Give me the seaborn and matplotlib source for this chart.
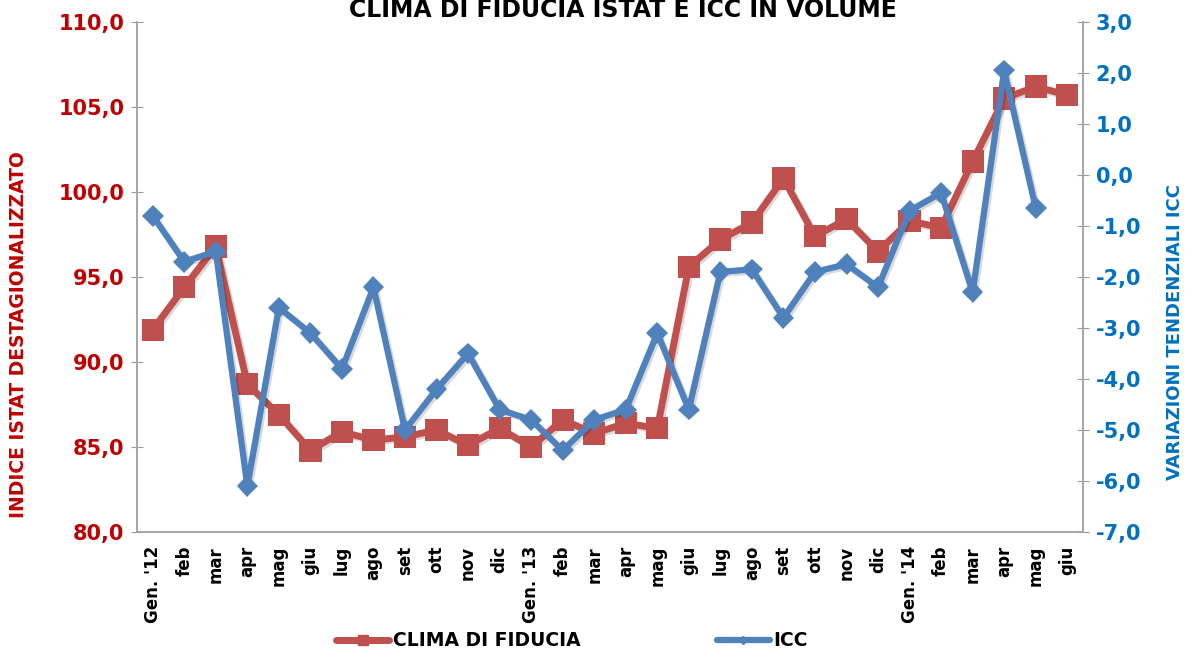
import numpy as np
import pandas as pd
import seaborn as sns
import matplotlib.pyplot as plt
import matplotlib.patheffects as pe
from matplotlib.lines import Line2D
from matplotlib.ticker import FuncFormatter, FixedLocator

mesi = ["Gen. '12", "feb", "mar", "apr", "mag", "giu", "lug", "ago", "set", "ott", "nov", "dic",
        "Gen. '13", "feb", "mar", "apr", "mag", "giu", "lug", "ago", "set", "ott", "nov", "dic",
        "Gen. '14", "feb", "mar", "apr", "mag", "giu"]
clima = [91.9, 94.4, 96.8, 88.7, 86.9, 84.8, 85.9, 85.4, 85.6, 86.0, 85.1, 86.1,
         85.0, 86.6, 85.8, 86.4, 86.1, 95.6, 97.2, 98.2, 100.8, 97.4, 98.4, 96.5,
         98.3, 97.9, 101.8, 105.5, 106.2, 105.7]
icc = [-0.8, -1.7, -1.5, -6.1, -2.6, -3.1, -3.8, -2.2, -5.0, -4.2, -3.5, -4.6,
       -4.8, -5.4, -4.8, -4.6, -3.1, -4.6, -1.9, -1.85, -2.8, -1.9, -1.75, -2.2,
       -0.7, -0.35, -2.3, 2.05, -0.65, np.nan]

RED = "#C0504D"
BLUE = "#4F81BD"
RED_TXT = "#C00000"
BLUE_TXT = "#0070C0"

df = pd.DataFrame({"pos": np.arange(len(mesi)), "mese": mesi, "clima": clima, "icc": icc})

sns.set_style("white")
plt.rcParams["font.family"] = ["DejaVu Sans"]
plt.rcParams["font.weight"] = "bold"
plt.rcParams["text.color"] = "black"

fig = plt.figure(figsize=(11.87, 6.51), dpi=100)
ax = fig.add_axes([0.1154, 0.1828, 0.7970, 0.7834])
ax2 = ax.twinx()

shadow = [pe.SimpleLineShadow(offset=(1.5, -1.5), alpha=0.15), pe.Normal()]

sns.lineplot(data=df, x="pos", y="clima", ax=ax, color=RED, linewidth=5, marker="s",
             markersize=16, markeredgewidth=0, legend=False)
sns.lineplot(data=df.dropna(subset=["icc"]), x="pos", y="icc", ax=ax2, color=BLUE, linewidth=4.5,
             marker="D", markersize=11, markeredgewidth=0, legend=False)
for l in ax.lines + ax2.lines:
    l.set_path_effects(shadow)

ax.set_xlim(-0.5, len(mesi) - 0.5)
ax.set_ylim(80, 110)
ax2.set_ylim(-7, 3)
ax.yaxis.set_major_locator(FixedLocator(np.arange(80, 111, 5)))
ax2.yaxis.set_major_locator(FixedLocator(np.arange(-7, 4, 1)))
fmt = FuncFormatter(lambda v, p: f"{v:.1f}".replace(".", ","))
ax.yaxis.set_major_formatter(fmt)
ax2.yaxis.set_major_formatter(fmt)

ax.set_xticks(df["pos"])
ax.set_xticklabels(mesi, rotation=90, fontsize=12, fontweight="bold", color="black")
ax.tick_params(axis="x", length=0, pad=10)
ax.tick_params(axis="y", direction="inout", length=8, color="#999999", labelsize=15,
               labelcolor=RED_TXT, pad=5)
ax2.tick_params(axis="y", direction="inout", length=8, color="#999999", labelsize=15,
                labelcolor=BLUE_TXT, pad=5)
for t in ax.get_yticklabels() + ax2.get_yticklabels():
    t.set_fontweight("bold")

for a in (ax, ax2):
    a.set_xlabel("")
    a.set_ylabel("")
    a.spines["top"].set_visible(False)
    for s in ("left", "right", "bottom"):
        a.spines[s].set_color("#A6A6A6")
        a.spines[s].set_linewidth(1.2)
ax.grid(False)
ax2.grid(False)

fig.text(0.525, 1 - 17 / 651, "CLIMA DI FIDUCIA ISTAT E ICC IN VOLUME", ha="center",
         va="baseline", fontsize=17, fontweight="bold", color="black")
fig.text(0.016, 1 - 335 / 651, "INDICE ISTAT DESTAGIONALIZZATO", rotation=90, ha="center",
         va="center", fontsize=13.5, fontweight="bold", color=RED_TXT)
fig.text(0.9895, 1 - 332 / 651, "VARIAZIONI TENDENZIALI ICC", rotation=90, ha="center",
         va="center", fontsize=13, fontweight="bold", color=BLUE_TXT)

handles = [Line2D([], [], color=RED, lw=5, marker="s", markersize=7),
           Line2D([], [], color=BLUE, lw=4.5, marker="D", markersize=4)]
fig.legend(handles, ["CLIMA DI FIDUCIA", "ICC"], loc="center", bbox_to_anchor=(0.482, 1 - 641 / 651),
           ncol=2, frameon=False, prop={"weight": "bold", "size": 13.5}, handlelength=2.8,
           handletextpad=0.2, columnspacing=7.3, labelcolor="black")

fig.savefig("out.png", dpi=100)
